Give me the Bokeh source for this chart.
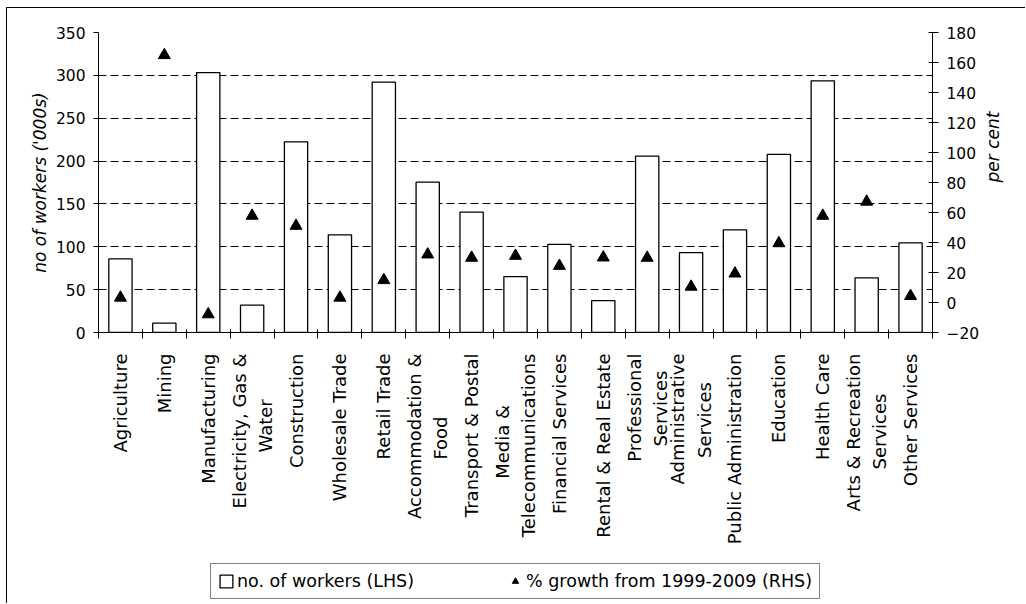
import math
from bokeh.plotting import figure
from bokeh.layouts import column
from bokeh.models import (Range1d, LinearAxis, FixedTicker, Legend, LegendItem,
                          ColumnDataSource)
from bokeh.embed import file_html
from bokeh.resources import INLINE

NB = "\u00a0"  # non-breaking space used to centre short wrapped lines
industries = [
    "Agriculture", "Mining", "Manufacturing",
    "Electricity, Gas &\nWater" + NB * 8,
    "Construction", "Wholesale Trade", "Retail Trade",
    "Accommodation &\nFood" + NB * 11,
    "Transport & Postal",
    "Media &" + NB * 9 + "\nTelecommunications",
    "Financial Services", "Rental & Real Estate",
    "Professional\nServices" + NB * 3,
    "Administrative\nServices" + NB * 5,
    "Public Administration", "Education", "Health Care",
    "Arts & Recreation\nServices" + NB * 7,
    "Other Services",
]
workers = [86.0, 10.9, 303.3, 31.9, 222.4, 114.0, 292.1, 175.4, 140.4, 65.3,
           102.7, 37.3, 205.7, 93.3, 119.8, 207.7, 293.6, 63.8, 104.6]
growth = [3.2, 164.9, -7.9, 57.8, 51.1, 3.2, 14.9, 32.0, 29.8, 31.1,
          24.4, 30.0, 29.8, 10.5, 19.3, 39.5, 57.8, 67.2, 4.3]
left_ticks = [0, 50, 100, 150, 200, 250, 300, 350]
right_ticks = [-20, 0, 20, 40, 60, 80, 100, 120, 140, 160, 180]
legend_labels = ["no. of workers (LHS)", "% growth from 1999-2009 (RHS)"]

FONT = "DejaVu Sans"
n = len(industries)
xs = list(range(n))
src = ColumnDataSource(dict(x=xs, workers=workers, growth=growth))

BAR_STYLE = dict(fill_color="white", line_color="black", line_width=1.3)
TRI_STYLE = dict(marker="triangle", size=12, fill_color="black", line_color="black")

p = figure(frame_width=834, frame_height=300, output_backend="svg",
           toolbar_location=None,
           x_range=Range1d(-0.5, n - 0.5),
           y_range=Range1d(left_ticks[0], left_ticks[-1]),
           min_border_left=91, min_border_right=94, min_border_top=24,
           min_border_bottom=231)
p.extra_y_ranges = {"pct": Range1d(right_ticks[0], right_ticks[-1])}
p.outline_line_color = None
p.background_fill_color = "white"
p.border_fill_color = "white"

# grid
p.xgrid.visible = False
p.ygrid.ticker = FixedTicker(ticks=left_ticks)
p.ygrid.grid_line_color = "black"
p.ygrid.grid_line_dash = "8 4"
p.ygrid.grid_line_width = 1

# x axis: labels at centres, tick marks at boundaries
xa = p.xaxis[0]
xa.ticker = FixedTicker(ticks=xs, minor_ticks=[i - 0.5 for i in range(n + 1)])
xa.major_label_overrides = {i: lab for i, lab in enumerate(industries)}
xa.major_label_orientation = math.pi / 2
xa.major_tick_line_color = None
xa.major_tick_in = 0
xa.major_tick_out = 0
xa.minor_tick_line_color = "black"
xa.minor_tick_in = 3
xa.minor_tick_out = 6
xa.axis_line_color = "black"
xa.major_label_standoff = 15
xa.major_label_text_font = FONT
xa.major_label_text_font_size = "18px"
xa.major_label_text_color = "black"
xa.major_label_text_line_height = 1.25

# left axis
ya = p.yaxis[0]
ya.ticker = FixedTicker(ticks=left_ticks)
ya.minor_tick_line_color = None
ya.major_tick_in = 0
ya.major_tick_out = 5
ya.axis_line_color = "black"
ya.major_tick_line_color = "black"
ya.major_label_standoff = 8
ya.major_label_text_font = FONT
ya.major_label_text_font_size = "15.5px"
ya.major_label_text_color = "black"
ya.axis_label = "no of workers ('000s)"
ya.axis_label_text_font = FONT
ya.axis_label_text_font_size = "17px"
ya.axis_label_text_font_style = "italic"
ya.axis_label_text_color = "black"
ya.axis_label_standoff = 3

# right axis
ra = LinearAxis(y_range_name="pct", ticker=FixedTicker(ticks=right_ticks))
ra.minor_tick_line_color = None
ra.major_tick_in = 4
ra.major_tick_out = 6
ra.axis_line_color = "black"
ra.major_tick_line_color = "black"
ra.major_label_standoff = 8
ra.major_label_text_font = FONT
ra.major_label_text_font_size = "15.5px"
ra.major_label_text_color = "black"
ra.axis_label = "per cent"
ra.axis_label_text_font = FONT
ra.axis_label_text_font_size = "17px"
ra.axis_label_text_font_style = "italic"
ra.axis_label_text_color = "black"
ra.axis_label_standoff = 11
try:
    ra.axis_label_orientation = math.pi / 2
except Exception:
    pass
p.add_layout(ra, "right")

p.vbar(x="x", top="workers", bottom=0, width=0.53, source=src, **BAR_STYLE)
p.scatter(x="x", y="growth", source=src, y_range_name="pct", **TRI_STYLE)

# legend strip below the chart (hidden proxy renderers with the same styles)
lg = figure(width=1019, height=41, output_backend="svg", toolbar_location=None,
            x_range=Range1d(-0.5, n - 0.5), y_range=Range1d(0, 1),
            x_axis_location=None, y_axis_location=None,
            min_border_left=0, min_border_right=0, min_border_top=0,
            min_border_bottom=0)
lg.grid.visible = False
lg.outline_line_color = None
lg.background_fill_color = "white"
lg.border_fill_color = "white"
lbar = lg.vbar(x="x", top="workers", bottom=0, width=0.53, source=src,
               visible=False, **BAR_STYLE)
ltri = lg.scatter(x="x", y="growth", source=src, visible=False, **TRI_STYLE)

legend = Legend(items=[LegendItem(label=legend_labels[0], renderers=[lbar]),
                       LegendItem(label=legend_labels[1], renderers=[ltri])],
                orientation="horizontal", location="top_center")
legend.border_line_color = "black"
legend.border_line_width = 1
legend.background_fill_color = "white"
legend.background_fill_alpha = 1
legend.inactive_fill_alpha = 0
legend.padding = 7
legend.spacing = 93
legend.margin = 0
legend.label_standoff = 3
legend.glyph_width = 16
legend.glyph_height = 16
legend.label_text_font = FONT
legend.label_text_font_size = "17.5px"
legend.label_text_color = "black"
lg.add_layout(legend)

layout = column(p, lg, spacing=0)
layout.styles = {"margin-left": "7px", "margin-top": "8px",
                 "box-shadow": "-1px -1px 0px 0px black"}

open("out.html", "w").write(file_html(layout, INLINE))
